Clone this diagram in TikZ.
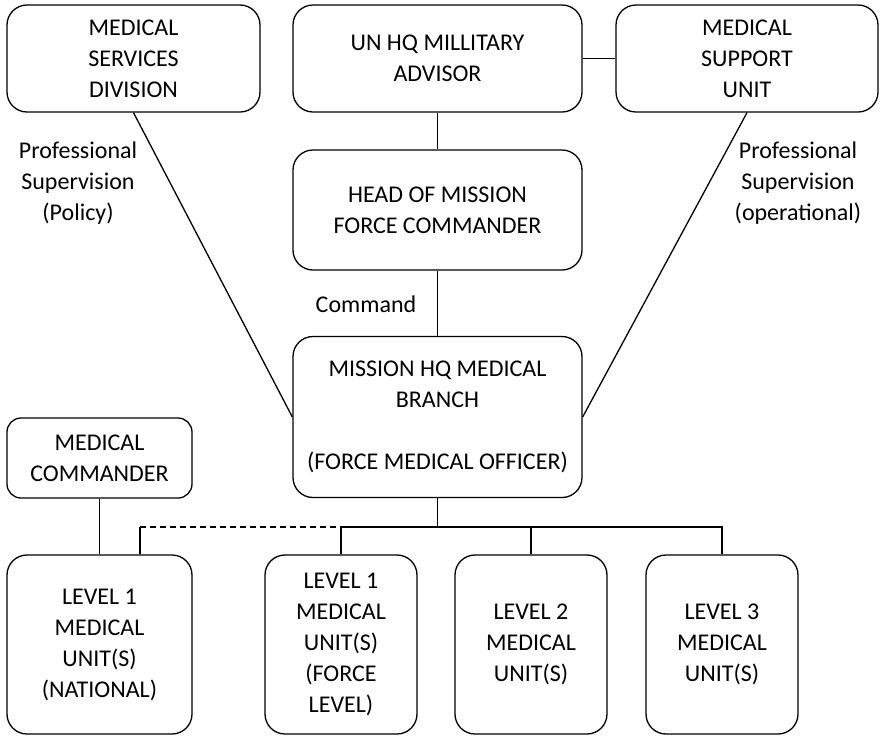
\documentclass[tikz,border=0pt]{standalone}
\usepackage{fontspec}
\setmainfont{Carlito}
\usetikzlibrary{calc}
\usetikzlibrary{positioning}

\begin{document}
\begin{tikzpicture}[x=0.5pt,y=-0.5pt,line width=0.65pt,
		font=\fontsize{12}{15.5}\selectfont,
		box/.style={draw,rectangle,rounded corners=10pt,align=center,inner sep=2pt},
		lbl/.style={align=center,inner sep=1pt}]
		\useasboundingbox (0,0) rectangle (885,736);

		% top row
		\node [box,minimum width=126.5pt,minimum height=53.5pt] (msd) at (133.5,58.5) {MEDICAL\\SERVICES\\DIVISION};
		\node [box,minimum width=144.5pt,minimum height=53.5pt] (unhq) at (437.5,58.5) {UN HQ MILLITARY\\ADVISOR};
		\node [box,minimum width=131pt,minimum height=53.5pt] (msu) at (747,58.5) {MEDICAL\\SUPPORT\\UNIT};

		% mission chain
		\node [box,minimum width=144.5pt,minimum height=60pt] (hom) at (437.5,210) {HEAD OF MISSION\\FORCE COMMANDER};
		\node [box,minimum width=144.5pt,minimum height=80.5pt] (mhq) at (437.5,417) {MISSION HQ MEDICAL\\BRANCH\\[15.5pt](FORCE MEDICAL OFFICER)};
		\node [box,rounded corners=7pt,minimum width=92.5pt,minimum height=40pt] (mc) at (99.5,458) {MEDICAL\\COMMANDER};

		% medical units
		\node [box,minimum width=92.5pt,minimum height=89.5pt] (lvlnat) at (99.5,644.5) {LEVEL 1\\MEDICAL\\UNIT(S)\\(NATIONAL)};
		\node [box,minimum width=76pt,minimum height=89.5pt] (lvlforce) at (341,644.5) {LEVEL 1\\MEDICAL\\UNIT(S)\\(FORCE\\LEVEL)};
		\node [box,minimum width=76pt,minimum height=89.5pt] (lvltwo) at (531,644.5) {LEVEL 2\\MEDICAL\\UNIT(S)};
		\node [box,minimum width=76pt,minimum height=89.5pt] (lvlthree) at (722,644.5) {LEVEL 3\\MEDICAL\\UNIT(S)};

		\coordinate (bus) at (437.5,527);
		\coordinate (natcorner) at (140,527);

		\draw (unhq) -- (msu);
		\draw (unhq) -- (hom);
		\draw (hom) -- (mhq);
		\draw (msd.south) -- (mhq.west);
		\draw (msu.south) -- (mhq.east);
		\draw (mc) -- (lvlnat);

		\draw (mhq) -- (bus);
		\draw (lvlforce.north |- bus) -- (bus) -| (lvlthree.north);
		\draw (bus) -| (lvltwo.north);
		\draw (lvlforce.north |- bus) -- (lvlforce.north);
		\draw [dashed,dash pattern=on 3pt off 2pt] (natcorner) -- (lvlforce.north |- bus);
		\draw (natcorner) -- (natcorner |- lvlnat.north);

		\node [lbl] (policy) at (78,183) {Professional\\Supervision\\(Policy)};
		\node [lbl] (operational) at (798,183) {Professional\\Supervision\\(operational)};
		\node [lbl] (command) at (366,304) {Command};
	\end{tikzpicture}
\end{document}
